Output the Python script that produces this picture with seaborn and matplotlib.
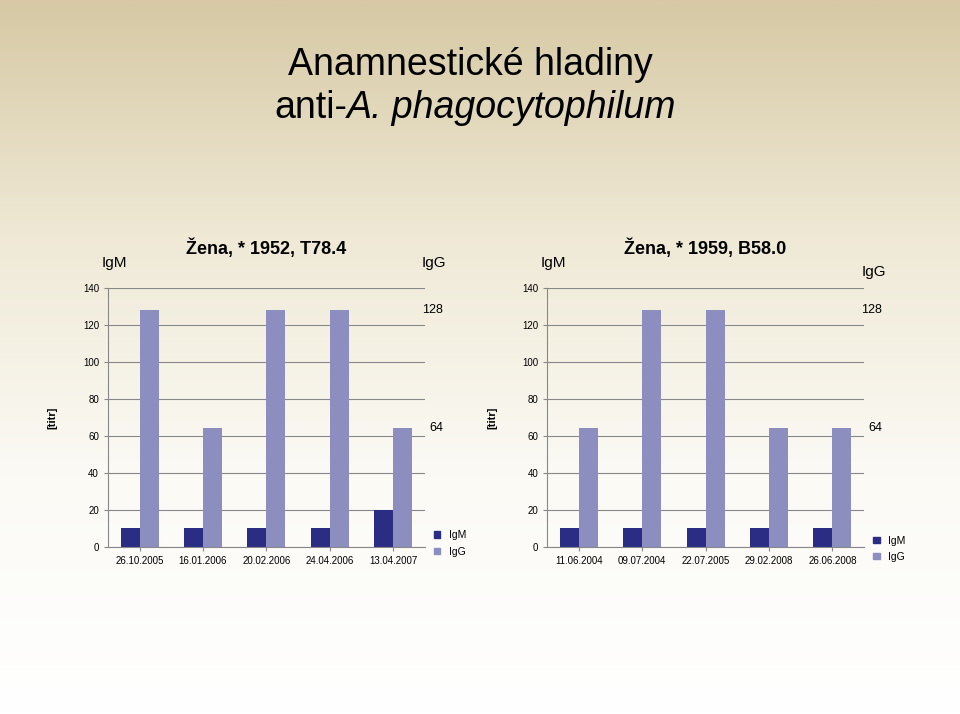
import numpy as np
import pandas as pd
import matplotlib
matplotlib.use("Agg")
import matplotlib.pyplot as plt
import seaborn as sns
from matplotlib.patches import Patch
from matplotlib.colors import LinearSegmentedColormap

plt.rcParams["font.family"] = "Liberation Sans"

dates1 = ["26.10.2005", "16.01.2006", "20.02.2006", "24.04.2006", "13.04.2007"]
igm1 = [10, 10, 10, 10, 20]
igg1 = [128, 64, 128, 128, 64]
dates2 = ["11.06.2004", "09.07.2004", "22.07.2005", "29.02.2008", "26.06.2008"]
igm2 = [10, 10, 10, 10, 10]
igg2 = [64, 128, 128, 64, 64]
titles = ["Žena, * 1952, T78.4", "Žena, * 1959, B58.0"]
colors = {"IgM": "#2B2D84", "IgG": "#8C8EC0"}

fig = plt.figure(figsize=(9.6, 7.14), dpi=100)
bg = fig.add_axes([0, 0, 1, 1], zorder=-10)
grad = np.linspace(0, 1, 256).reshape(-1, 1)
cmap = LinearSegmentedColormap.from_list("bg", ["#D6C9A4", "#EFE9D6", "#FBFAF5", "#FFFFFF"])
bg.imshow(grad, aspect="auto", cmap=cmap, extent=[0, 1, 0, 1], origin="upper")
bg.axis("off")

fig.text(0.49, 0.895, "Anamnestické hladiny", ha="center", fontsize=27)
t1 = fig.text(0, 0.835, "anti-", ha="left", fontsize=27)
t2 = fig.text(0, 0.835, "A. phagocytophilum", ha="left", fontsize=27, style="italic")
r = fig.canvas.get_renderer()
w1 = t1.get_window_extent(r).width / 960
w2 = t2.get_window_extent(r).width / 960
x0 = 0.495 - (w1 + w2) / 2
t1.set_x(x0)
t2.set_x(x0 + w1)

for i, (dates, igm, igg, title) in enumerate([(dates1, igm1, igg1, titles[0]), (dates2, igm2, igg2, titles[1])]):
    left = 0.1125 if i == 0 else 0.570
    ax = fig.add_axes([left, 0.234, 0.330, 0.363])
    df = pd.DataFrame({"date": dates * 2, "val": igm + igg, "s": ["IgM"] * 5 + ["IgG"] * 5})
    sns.barplot(data=df, x="date", y="val", hue="s", palette=colors, ax=ax, width=0.6, saturation=1, legend=False)
    ax.set_facecolor("none")
    ax.set_ylim(0, 140)
    ax.set_yticks(range(0, 141, 20))
    ax.yaxis.grid(True, color="#888888", lw=0.8)
    ax.set_axisbelow(True)
    for s in ["top", "right"]:
        ax.spines[s].set_visible(False)
    ax.spines["left"].set_color("#888888")
    ax.spines["bottom"].set_color("#888888")
    ax.tick_params(labelsize=7, length=3, colors="#888888", labelcolor="black")
    ax.set_xlabel("")
    ax.set_ylabel("[titr]", fontsize=8, fontweight="bold", labelpad=18)
    ax.text(0.5, 1.13, title, transform=ax.transAxes, ha="center", fontsize=13, fontweight="bold")
    ax.text(0.02, 1.08, "IgM", transform=ax.transAxes, ha="center", fontsize=11)
    ax.text(1.03, 1.08 if i == 0 else 1.045, "IgG", transform=ax.transAxes, ha="center", fontsize=11)
    ax.text(1.025, 128, "128", transform=ax.get_yaxis_transform(), ha="center", va="center", fontsize=9)
    ax.text(1.035, 64, "64", transform=ax.get_yaxis_transform(), ha="center", va="center", fontsize=9)
    ax.legend(handles=[Patch(color=colors["IgM"], label="IgM"), Patch(color=colors["IgG"], label="IgG")],
              loc="upper left", bbox_to_anchor=(1.0, 0.1 if i == 0 else 0.08), frameon=False,
              fontsize=7.5, handlelength=0.6, handleheight=0.6, labelspacing=0.6)

fig.savefig("out.png", dpi=100)
